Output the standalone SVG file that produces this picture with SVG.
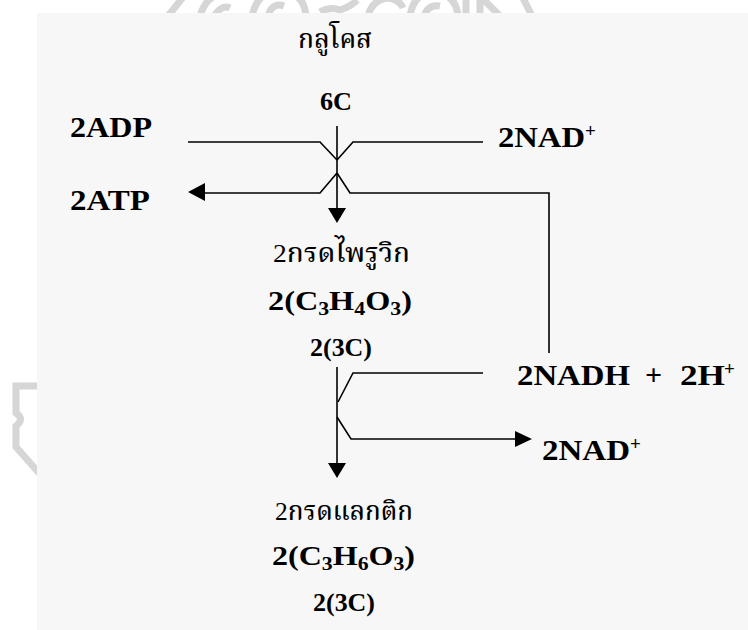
<svg xmlns="http://www.w3.org/2000/svg" width="748" height="630" viewBox="0 0 748 630">
<defs>
<style>
.wm{fill:none;stroke:#d6d6d6;stroke-width:7}
.ln{fill:none;stroke:#000;stroke-width:1.6}
.ah{fill:#000}
.lb{font-family:"Liberation Serif","Times New Roman",serif;font-weight:bold;fill:#000}
.th{font-family:"Liberation Serif","Noto Serif Thai","Noto Sans Thai","DejaVu Sans",sans-serif;font-weight:500;fill:#000}
</style>
</defs>
<rect width="748" height="630" fill="#fff"/>
<g id="watermark">
<path class="wm" d="M168,16 L184,-4"/>
<path class="wm" d="M200,16 Q205,0 215,-4 M214,16 Q222,4 230,8"/>
<path class="wm" d="M252,16 Q258,-10 280,-10 Q304,-8 306,16 M268,16 Q272,2 284,6"/>
<path class="wm" d="M320,12 Q330,6 340,10 Q352,6 357,0"/>
<path class="wm" d="M368,16 Q372,0 388,-2 Q400,0 403,8"/>
<path class="wm" d="M410,16 Q414,-8 434,-8 Q456,-6 458,16 M424,16 Q428,4 440,6"/>
<path class="wm" d="M466,16 V-4 M480,16 V-4 L500,16"/>
<path class="wm" d="M522,-4 L532,16"/>
<path class="wm" d="M40,386 H16 V413 Q25,419 16,426 V447 L40,474"/>
</g>
<rect x="37" y="13" width="711" height="617" fill="#f7f7f7"/>
<g id="connectors">
<path class="ln" d="M337,126 V210"/>
<polygon class="ah" points="328,208 346,208 337,223"/>
<path class="ln" d="M188,142 H320 L337,160"/>
<path class="ln" d="M483,142 H353 L337,160"/>
<path class="ln" d="M204,193 H320 L337,173"/>
<polygon class="ah" points="188,192 205,183 205,201"/>
<path class="ln" d="M337,173 L350,193 H549 V353"/>
<path class="ln" d="M337,367 V465"/>
<polygon class="ah" points="328,463 346,463 337,478"/>
<path class="ln" d="M483,373 H353 L338,402"/>
<path class="ln" d="M337,417 L351,439 H516"/>
<polygon class="ah" points="532,439 515,431 515,447"/>
</g>
<g id="glucose">
<text class="th" x="298" y="48" font-size="26" textLength="74" lengthAdjust="spacingAndGlyphs">กลูโคส</text>
<text class="lb" x="320" y="110" font-size="26" textLength="32" lengthAdjust="spacingAndGlyphs">6C</text>
</g>
<g id="adp"><text class="lb" x="70" y="137" font-size="29" textLength="82" lengthAdjust="spacingAndGlyphs">2ADP</text></g>
<g id="atp"><text class="lb" x="70" y="210" font-size="29" textLength="80" lengthAdjust="spacingAndGlyphs">2ATP</text></g>
<g id="nad-top"><text class="lb" x="498" y="147" font-size="29"><tspan textLength="87" lengthAdjust="spacingAndGlyphs">2NAD</tspan><tspan x="585" y="137" font-size="19">+</tspan></text></g>
<g id="pyruvate">
<text class="th" x="273" y="262" font-size="26" textLength="137" lengthAdjust="spacingAndGlyphs">2กรดไพรูวิก</text>
<text class="lb" x="268" y="310" font-size="28" textLength="144" lengthAdjust="spacingAndGlyphs">2(C<tspan font-size="19" dy="5">3</tspan><tspan dy="-5">H</tspan><tspan font-size="19" dy="5">4</tspan><tspan dy="-5">O</tspan><tspan font-size="19" dy="5">3</tspan><tspan dy="-5">)</tspan></text>
<text class="lb" x="310" y="356" font-size="26" textLength="62" lengthAdjust="spacingAndGlyphs">2(3C)</text>
</g>
<g id="nadh"><text class="lb" x="517" y="385" font-size="30"><tspan textLength="113" lengthAdjust="spacingAndGlyphs">2NADH</tspan><tspan x="645">+</tspan><tspan x="680" textLength="45" lengthAdjust="spacingAndGlyphs">2H</tspan><tspan x="724" y="375" font-size="19">+</tspan></text></g>
<g id="nad-bottom"><text class="lb" x="542" y="460" font-size="29"><tspan textLength="88" lengthAdjust="spacingAndGlyphs">2NAD</tspan><tspan x="630" y="450" font-size="19">+</tspan></text></g>
<g id="lactate">
<text class="th" x="275" y="520" font-size="26" textLength="138" lengthAdjust="spacingAndGlyphs">2กรดแลกติก</text>
<text class="lb" x="272" y="565" font-size="28" textLength="143" lengthAdjust="spacingAndGlyphs">2(C<tspan font-size="19" dy="5">3</tspan><tspan dy="-5">H</tspan><tspan font-size="19" dy="5">6</tspan><tspan dy="-5">O</tspan><tspan font-size="19" dy="5">3</tspan><tspan dy="-5">)</tspan></text>
<text class="lb" x="313" y="611" font-size="26" textLength="62" lengthAdjust="spacingAndGlyphs">2(3C)</text>
</g>
</svg>
